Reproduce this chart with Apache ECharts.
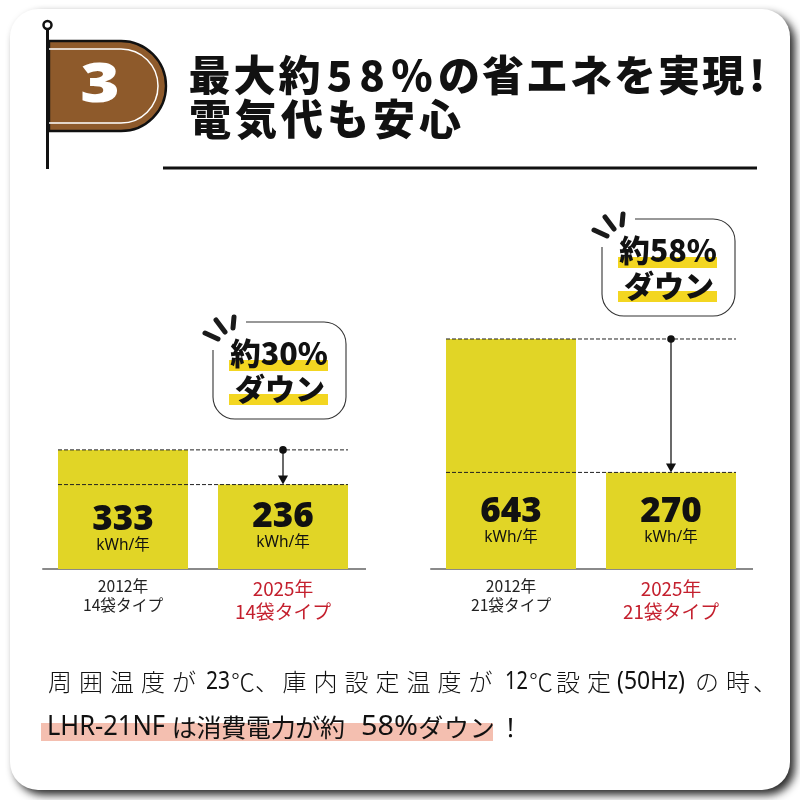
<!DOCTYPE html>
<html><head><meta charset="utf-8">
<style>html,body{margin:0;padding:0;background:#fff}#c{width:800px;height:800px}</style>
<script src="https://cdn.jsdelivr.net/npm/echarts@6/dist/echarts.min.js"></script>
</head><body><div id="c"></div>
<script>
const leftCategories = ['2012年\n14袋タイプ', '2025年\n14袋タイプ'];
const rightCategories = ['2012年\n21袋タイプ', '2025年\n21袋タイプ'];
const leftValues = [333, 236];
const rightValues = [643, 270];
const unitLabel = 'kWh/年';
const leftBadge = ['約30%', 'ダウン'];
const rightBadge = ['約58%', 'ダウン'];

const JP = '"Noto Sans CJK JP"';
const LATIN = '"Noto Sans"';
const BAR = '#e1d526', INK = '#111', RED = '#c4202e';

function cats(list) {
  return list.map((v, i) => ({
    value: v,
    textStyle: i === 0
      ? { color: '#222', fontSize: 15.7, lineHeight: 19 }
      : { color: RED, fontSize: 18.8, lineHeight: 23 }
  }));
}
function bars(values, lifts, xi) {
  return {
    type: 'bar', xAxisIndex: xi, yAxisIndex: xi, barWidth: 130,
    itemStyle: { color: BAR },
    data: values.map((v, i) => ({
      value: v,
      label: {
        show: true, position: 'insideBottom', distance: lifts[i],
        formatter: '{n|{c}}\n{u|' + unitLabel + '}',
        rich: {
          n: { fontFamily: LATIN, fontWeight: 900, fontSize: 35, color: INK, lineHeight: 33 },
          u: { fontFamily: LATIN + ',' + JP, fontSize: 15.5, color: INK, lineHeight: 17 }
        }
      }
    }))
  };
}
function gapMark(values, xi) {
  return {
    type: 'custom', xAxisIndex: xi, yAxisIndex: xi, clip: false, z: 5, silent: true,
    encode: { x: 0, y: 1 },
    data: [[1, values[0], values[1]]],
    renderItem(params, api) {
      const hi = api.coord([1, api.value(1)]);
      const lo = api.coord([1, api.value(2)]);
      const x0 = api.coord([0, api.value(1)])[0] - 65;
      const x1 = hi[0] + 65;
      const dash = { stroke: '#222', lineWidth: 1, lineDash: [4, 2] };
      return { type: 'group', children: [
        { type: 'line', shape: { x1: x0, y1: hi[1], x2: x1, y2: hi[1] }, style: dash },
        { type: 'line', shape: { x1: x0, y1: lo[1], x2: x1, y2: lo[1] }, style: dash },
        { type: 'line', shape: { x1: hi[0], y1: hi[1], x2: hi[0], y2: lo[1] - 6 }, style: { stroke: '#444', lineWidth: 1.6 } },
        { type: 'circle', shape: { cx: hi[0], cy: hi[1], r: 3.8 }, style: { fill: '#111' } },
        { type: 'polygon', shape: { points: [[hi[0] - 5, lo[1] - 9], [hi[0] + 5, lo[1] - 9], [hi[0], lo[1]]] }, style: { fill: '#111' } }
      ] };
    }
  };
}
function badgePath(dx, dy) {
  const X = x => x + dx, Y = y => y + dy;
  return {
    type: 'path',
    shape: { layout: 'cover', x: X(213), y: Y(322), width: 133, height: 97,
      pathData: `M${X(246)} ${Y(322)}L${X(324)} ${Y(322)}A22 22 0 0 1 ${X(346)} ${Y(344)}L${X(346)} ${Y(397)}A22 22 0 0 1 ${X(324)} ${Y(419)}L${X(235)} ${Y(419)}A22 22 0 0 1 ${X(213)} ${Y(397)}L${X(213)} ${Y(350)}` },
    style: { fill: 'none', stroke: '#333', lineWidth: 1.1 }
  };
}
function badge(dx, dy, lines) {
  const X = x => x + dx, Y = y => y + dy;
  const rect = (x, y, w, h, fill, z) => ({ type: 'rect', z, shape: { x: X(x), y: Y(y), width: w, height: h }, style: { fill } });
  const ray = (a, b, c, d) => ({ type: 'line', z: 3, shape: { x1: X(a), y1: Y(b), x2: X(c), y2: Y(d) }, style: { stroke: '#1a1a1a', lineWidth: 5, lineCap: 'round' } });
  return [
    ray(205, 333, 218, 339), ray(216, 320, 225, 332), ray(234, 317, 233, 328),
    rect(229, 360, 99, 11, '#f3d621', 3), rect(229, 394, 99, 11, '#f3d621', 3),
    { type: 'text', z: 4, style: { x: X(279), y: Y(353), text: lines[0], align: 'center', verticalAlign: 'middle', fontFamily: JP, fontWeight: 900, fontSize: 30.5, fill: '#111' } },
    { type: 'text', z: 4, style: { x: X(280), y: Y(389), text: lines[1], align: 'center', verticalAlign: 'middle', fontFamily: JP, fontWeight: 900, fontSize: 30, fill: '#111' } }
  ];
}
const decor = {
  type: 'custom', coordinateSystem: 'none', silent: true, z: 1, clip: false,
  data: [[0]],
  renderItem() {
    return { type: 'group', children: [
      { type: 'path', shape: { layout: 'cover', x: 49, y: 41, width: 117, height: 90, pathData: 'M49 41L121 41A45 45 0 0 1 121 131L49 131Z' }, style: { fill: '#8e5a2b', stroke: '#111', lineWidth: 2.4 } },
      { type: 'path', shape: { layout: 'cover', x: 49, y: 49, width: 109, height: 74, pathData: 'M49 49L121 49A37 37 0 0 1 121 123L49 123' }, style: { fill: 'none', stroke: '#fff', lineWidth: 1.5 } },
      badgePath(0, 0),
      badgePath(389, -103)
    ] };
  }
};
const wrap = (tok, s) => Array.from(s).map(ch => `{${tok}|${ch}}`).join('');
const tokenStyle = (width, extra) => Object.assign({ width, align: 'center', fontFamily: JP, fill: '#111', color: '#111' }, extra);
const heavy = { fontSize: 42, fontWeight: 900 };

const titleRich = {
  a: tokenStyle(45, heavy),
  b: tokenStyle(44, heavy),
  f: tokenStyle(35, heavy),
  e: tokenStyle(30, heavy),
  p: tokenStyle(50, heavy),
  x: tokenStyle(24, heavy),
  m: tokenStyle(46, heavy)
};
const titleLine1 = wrap('a', '最大約') + '{f|5}{e|8}{p|%}' + wrap('b', 'の省エネを実現') + '{x|!}';
const titleLine2 = wrap('m', '電気代も安心');

function narrow(x, y, text, size, sx) {
  return { type: 'text', z: 3, x, y, scaleX: sx, style: { x: 0, y: 0, text, verticalAlign: 'middle', fontFamily: LATIN, fontSize: size, fontWeight: 400, fill: '#111' } };
}
function cjkRun(x, y, text, size, step, weight) {
  const rich = { c: tokenStyle(step, { fontSize: size, fontWeight: weight }) };
  return { type: 'text', z: 3, style: { x, y, text: wrap('c', text), rich, verticalAlign: 'middle', fontFamily: JP, fontSize: size, fill: '#111' } };
}
const noteElements = [
  cjkRun(44.5, 682, '周囲温度が', 24, 31, 300),
  narrow(206, 682, '23', 25, 0.84),
  cjkRun(231, 682, '℃、', 24, 24, 300),
  cjkRun(279, 682, '庫内設定温度が', 24, 31, 300),
  narrow(505, 682, '12', 25, 0.8),
  cjkRun(529, 682, '℃', 24, 24, 300),
  cjkRun(552.5, 682, '設定', 24, 31, 300),
  narrow(617, 682, '(50Hz)', 25, 0.92),
  cjkRun(691.5, 682, 'の時', 24, 31, 300),
  cjkRun(753, 682, '、', 24, 24, 300),
  narrow(47, 727, 'LHR-21NF', 28, 0.91),
  cjkRun(172, 727, 'は消費電力が約', 25, 24.7, 400),
  narrow(361, 727, '58%', 28, 1.03),
  cjkRun(418, 727, 'ダウン', 25, 25.7, 400),
  cjkRun(498, 727, '！', 25, 25, 400)
];

const chart = echarts.init(document.getElementById('c'), null, { width: 800, height: 800 });
const axisBase = { type: 'category', axisTick: { show: false },
  axisLine: { lineStyle: { color: '#8a8a8a', width: 2 } },
  axisLabel: { margin: 8, verticalAlign: 'top', fontFamily: JP, interval: 0 } };
const yBase = { type: 'value', min: 0, max: 700, show: false };

chart.setOption({
  animation: false,
  backgroundColor: '#fff',
  grid: [
    { left: 43, width: 320, top: 318.6, height: 250.4 },
    { left: 431, width: 320, top: 318.6, height: 250.4 }
  ],
  xAxis: [
    Object.assign({}, axisBase, { gridIndex: 0, data: cats(leftCategories) }),
    Object.assign({}, axisBase, { gridIndex: 1, data: cats(rightCategories) })
  ],
  yAxis: [Object.assign({ gridIndex: 0 }, yBase), Object.assign({ gridIndex: 1 }, yBase)],
  series: [
    bars(leftValues, [15, 18], 0),
    bars(rightValues, [23, 23], 1),
    gapMark(leftValues, 0),
    gapMark(rightValues, 1),
    decor
  ],
  graphic: { elements: [
    { type: 'rect', z: -5, shape: { x: 10, y: 9, width: 780, height: 781, r: 28 },
      style: { fill: '#fff', shadowColor: 'rgba(20,20,20,0.9)', shadowBlur: 8, shadowOffsetX: 5, shadowOffsetY: 5 } },
    { type: 'line', z: 1, shape: { x1: 362, y1: 569, x2: 366, y2: 569 }, style: { stroke: '#8a8a8a', lineWidth: 2 } },
    { type: 'line', z: 1, shape: { x1: 750, y1: 569, x2: 753, y2: 569 }, style: { stroke: '#8a8a8a', lineWidth: 2 } },
    { type: 'line', z: 3, shape: { x1: 47.5, y1: 29, x2: 47.5, y2: 169 }, style: { stroke: '#111', lineWidth: 3 } },
    { type: 'circle', z: 3, shape: { cx: 47.5, cy: 25, r: 4 }, style: { fill: '#fff', stroke: '#111', lineWidth: 2.5 } },
    { type: 'text', z: 3, x: 100, y: 87, scaleX: 1.25, style: { x: 0, y: 0, text: '3', align: 'center', verticalAlign: 'middle', fontFamily: LATIN, fontWeight: 900, fontSize: 54, fill: '#fff' } },
    { type: 'text', z: 3, style: { x: 187, y: 75, text: titleLine1, rich: titleRich, verticalAlign: 'middle', fontFamily: JP, fontWeight: 900, fontSize: 42, fill: '#111' } },
    { type: 'text', z: 3, style: { x: 187, y: 119, text: titleLine2, rich: titleRich, verticalAlign: 'middle', fontFamily: JP, fontWeight: 900, fontSize: 42, fill: '#111' } },
    { type: 'line', z: 3, shape: { x1: 163, y1: 168, x2: 757, y2: 168 }, style: { stroke: '#111', lineWidth: 3 } },
    { type: 'rect', z: 1, shape: { x: 41, y: 723, width: 452, height: 18 }, style: { fill: '#f4bfb0' } }
  ].concat(noteElements, badge(0, 0, leftBadge), badge(389, -103, rightBadge)) }
});
</script></body></html>
